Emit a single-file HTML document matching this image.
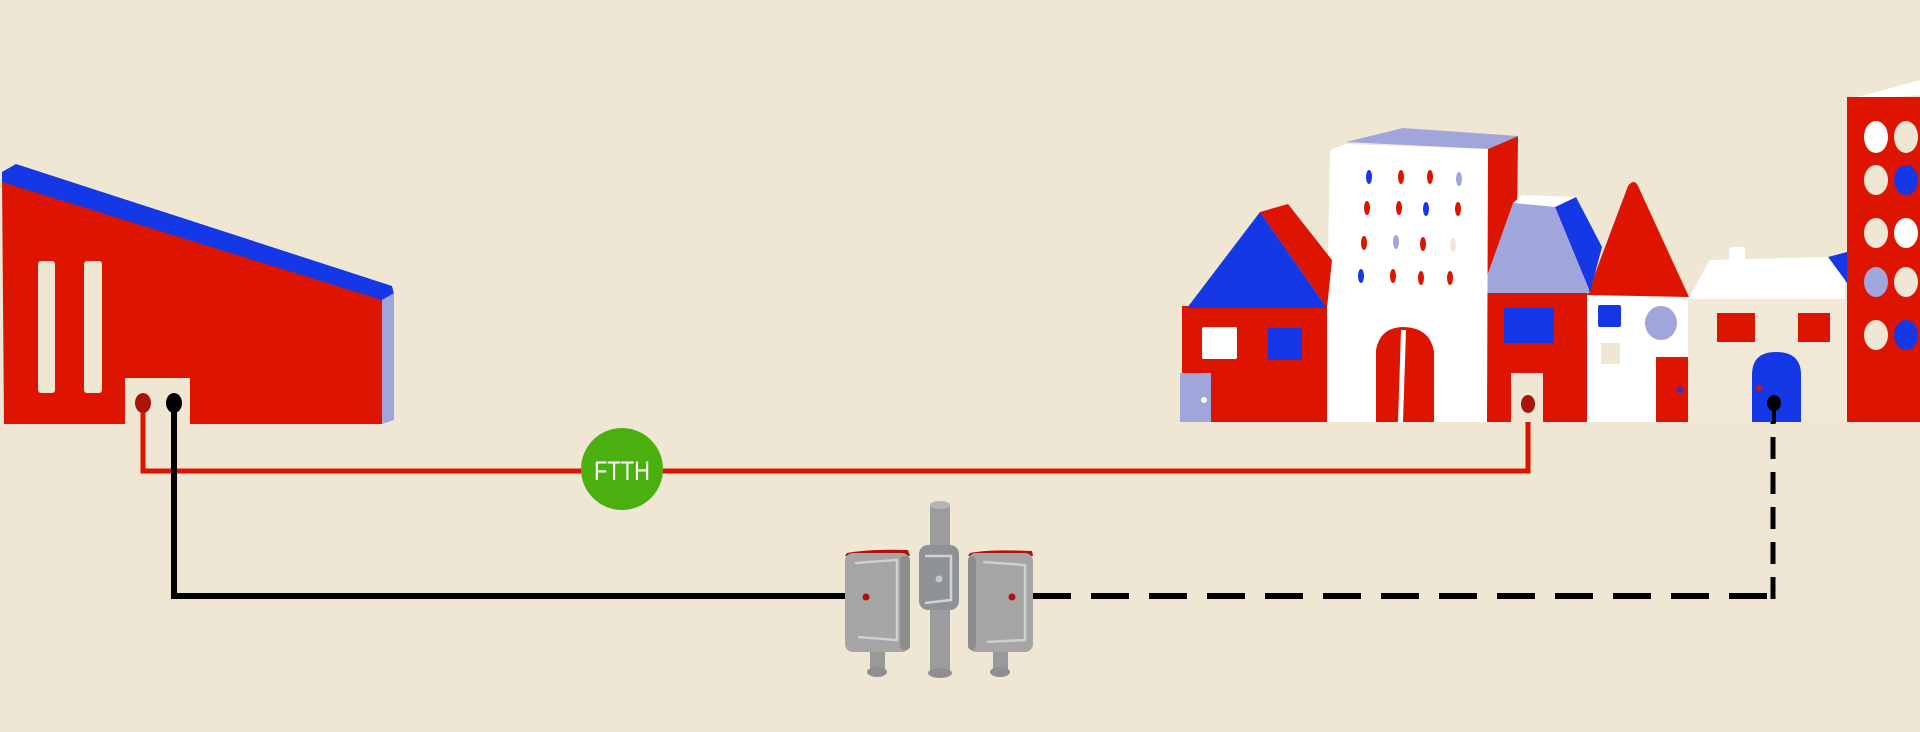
<!DOCTYPE html>
<html><head><meta charset="utf-8"><style>html,body{margin:0;padding:0;background:#efe6d4}svg{display:block}</style></head>
<body>
<svg width="1920" height="732" viewBox="0 0 1920 732" xmlns="http://www.w3.org/2000/svg">
<rect width="1920" height="732" fill="#efe6d4"/>
<!-- left building -->
<polygon points="2,178 392,296 382,300 382,424 190,424 190,378 125,378 125,424 4,424" fill="#dd1500"/>
<polygon points="2,172 16,164 392,286 394,294 382,300 2,182" fill="#1438e6"/>
<polygon points="382,300 394,293 394,420 382,424" fill="#a0a6dc"/>
<rect x="38" y="261" width="17" height="132" rx="3" fill="#efe6d4"/>
<rect x="84" y="261" width="18" height="132" rx="3" fill="#efe6d4"/>
<!-- lines -->
<polyline points="143,404 143,471 1528,471 1528,404" fill="none" stroke="#dd1500" stroke-width="5"/>
<polyline points="174,404 174,596 845,596" fill="none" stroke="#000" stroke-width="6"/>
<line x1="1033" y1="596" x2="1770" y2="596" stroke="#000" stroke-width="6" stroke-dasharray="38,20"/>
<line x1="1773" y1="599" x2="1773" y2="405" stroke="#000" stroke-width="5" stroke-dasharray="22,13"/>
<ellipse cx="143" cy="403" rx="8" ry="10" fill="#a81508"/>
<ellipse cx="174" cy="403" rx="8" ry="10" fill="#000"/>
<!-- FTTH -->
<circle cx="622" cy="469" r="41" fill="#4caf10"/>
<text x="622" y="480" text-anchor="middle" font-family="Liberation Sans, sans-serif" font-size="27" fill="#fff" textLength="56" lengthAdjust="spacingAndGlyphs">FTTH</text>
<!-- cabinets -->
<g>
<rect x="870" y="650" width="15" height="22" fill="#999"/><ellipse cx="877" cy="672" rx="10" ry="5" fill="#8f8f8f"/>
<rect x="993" y="650" width="15" height="22" fill="#999"/><ellipse cx="1000" cy="672" rx="10" ry="5" fill="#8f8f8f"/>
<path d="M847 553 Q870 549 908 550 L910 556 L845 556 Z" fill="#b01010"/>
<rect x="845" y="553" width="65" height="99" rx="8" fill="#a5a5a5"/>
<rect x="900" y="556" width="10" height="94" rx="4" fill="#8d8d8d"/>
<path d="M855 563 L897 560 L897 640 L858 637" fill="none" stroke="#cfcfcf" stroke-width="2.5"/>
<circle cx="866" cy="597" r="3.5" fill="#b01010"/>
<path d="M970 553 Q990 549 1032 551 L1033 556 L968 556 Z" fill="#b01010"/>
<rect x="968" y="553" width="65" height="99" rx="8" fill="#a5a5a5"/>
<rect x="968" y="556" width="8" height="94" rx="4" fill="#8d8d8d"/>
<path d="M983 562 L1025 565 L1025 640 L987 642" fill="none" stroke="#cfcfcf" stroke-width="2.5"/>
<circle cx="1012" cy="597" r="3.5" fill="#b01010"/>
<rect x="930" y="505" width="20" height="168" fill="#9c9c9c"/>
<ellipse cx="940" cy="505" rx="10" ry="4" fill="#b5b5b5"/>
<ellipse cx="940" cy="673" rx="12" ry="5" fill="#8f8f8f"/>
<rect x="919" y="545" width="40" height="65" rx="9" fill="#8e9295"/>
<path d="M925 556 L951 556 L951 600 L925 603" fill="none" stroke="#d2d2d2" stroke-width="2.5"/>
<circle cx="939" cy="579" r="3.5" fill="#c8c8c8"/>
</g>
<!-- town -->
<polygon points="1847,100 1920,80 1920,95 1852,100" fill="#fff"/>
<rect x="1847" y="97" width="73" height="325" fill="#dd1500"/>
<g>
<ellipse cx="1876" cy="137" rx="12" ry="16" fill="#fff"/><ellipse cx="1906" cy="137" rx="12" ry="16" fill="#efe6d4"/>
<ellipse cx="1876" cy="180" rx="12" ry="15" fill="#efe6d4"/><ellipse cx="1906" cy="180" rx="12" ry="15" fill="#1438e6"/>
<ellipse cx="1876" cy="233" rx="12" ry="15" fill="#efe6d4"/><ellipse cx="1906" cy="233" rx="12" ry="15" fill="#fff"/>
<ellipse cx="1876" cy="282" rx="12" ry="15" fill="#a0a6dc"/><ellipse cx="1906" cy="282" rx="12" ry="15" fill="#efe6d4"/>
<ellipse cx="1876" cy="335" rx="12" ry="15" fill="#efe6d4"/><ellipse cx="1906" cy="335" rx="12" ry="15" fill="#1438e6"/>
</g>
<polygon points="1828,257 1847,252 1847,283" fill="#1438e6"/>
<rect x="1688" y="297" width="159" height="125" fill="#f1e8d8"/>
<rect x="1729" y="247" width="16" height="15" rx="3" fill="#fff"/>
<polygon points="1688,299 1710,260 1828,257 1845,280 1845,299" fill="#fff"/>
<rect x="1717" y="313" width="38" height="29" fill="#dd1500"/>
<rect x="1798" y="313" width="32" height="29" fill="#dd1500"/>
<path d="M1752 422 L1752 375 Q1752 352 1776 352 Q1801 352 1801 375 L1801 422 Z" fill="#1438e6"/>
<circle cx="1759" cy="388" r="3" fill="#dd1500"/>
<ellipse cx="1774" cy="403" rx="7" ry="8" fill="#000"/>
<rect x="1772" y="405" width="4" height="18" fill="#000"/>
<rect x="1587" y="295" width="101" height="127" fill="#fff"/>
<path d="M1587,295 L1628,186 Q1634,178 1638,186 L1689,297 Z" fill="#dd1500"/>
<rect x="1598" y="305" width="23" height="22" rx="2" fill="#1438e6"/>
<ellipse cx="1661" cy="323" rx="16" ry="17" fill="#a0a6dc"/>
<rect x="1601" y="343" width="19" height="21" fill="#efe6d4"/>
<rect x="1656" y="357" width="32" height="65" fill="#dd1500"/>
<circle cx="1680" cy="390" r="3" fill="#1438e6"/>
<polygon points="1488,149 1518,136 1516,300 1486,300" fill="#dd1500"/>
<rect x="1474" y="292" width="113" height="130" fill="#dd1500"/>
<polygon points="1555,207 1576,197 1602,247 1590,292" fill="#1438e6"/>
<polygon points="1513,203 1522,195 1576,197 1555,207" fill="#fff"/>
<polygon points="1481,293 1513,203 1555,207 1590,293" fill="#a0a6dc"/>
<rect x="1504" y="308" width="50" height="35" fill="#1438e6"/>
<rect x="1511" y="373" width="32" height="49" fill="#efe6d4"/>
<ellipse cx="1528" cy="404" rx="7" ry="9" fill="#a81508"/>
<polygon points="1346,142 1403,128 1518,136 1488,149" fill="#a0a6dc"/>
<polygon points="1330,150 1346,144 1488,149 1487,422 1325,422" fill="#fff"/>
<g>
<ellipse cx="1369" cy="177" rx="3" ry="7" fill="#1438e6"/><ellipse cx="1401" cy="177" rx="3" ry="7" fill="#dd1500"/><ellipse cx="1430" cy="177" rx="3" ry="7" fill="#dd1500"/><ellipse cx="1459" cy="179" rx="3" ry="7" fill="#a0a6dc"/>
<ellipse cx="1367" cy="208" rx="3" ry="7" fill="#dd1500"/><ellipse cx="1399" cy="208" rx="3" ry="7" fill="#dd1500"/><ellipse cx="1426" cy="209" rx="3" ry="7" fill="#1438e6"/><ellipse cx="1458" cy="209" rx="3" ry="7" fill="#dd1500"/>
<ellipse cx="1364" cy="243" rx="3" ry="7" fill="#dd1500"/><ellipse cx="1396" cy="242" rx="3" ry="7" fill="#a0a6dc"/><ellipse cx="1423" cy="244" rx="3" ry="7" fill="#dd1500"/><ellipse cx="1453" cy="245" rx="3" ry="7" fill="#efe6d4"/>
<ellipse cx="1361" cy="276" rx="3" ry="7" fill="#1438e6"/><ellipse cx="1393" cy="276" rx="3" ry="7" fill="#dd1500"/><ellipse cx="1421" cy="278" rx="3" ry="7" fill="#dd1500"/><ellipse cx="1450" cy="278" rx="3" ry="7" fill="#dd1500"/>
</g>
<path d="M1376 422 L1376 350 Q1380 328 1402 327 Q1430 327 1434 352 L1434 422 Z" fill="#dd1500"/>
<polygon points="1401,330 1406,330 1403,422 1398,422" fill="#fff"/>
<rect x="1182" y="306" width="145" height="116" fill="#dd1500"/>
<polygon points="1260,212 1288,204 1332,260 1327,308" fill="#dd1500"/>
<polygon points="1187,308 1260,212 1327,308" fill="#1438e6"/>
<rect x="1202" y="327" width="35" height="32" rx="2" fill="#fff"/>
<rect x="1268" y="328" width="34" height="32" fill="#1438e6"/>
<rect x="1180" y="373" width="31" height="49" fill="#a0a6dc"/>
<circle cx="1204" cy="400" r="3" fill="#fff"/>
</svg>
</body></html>
